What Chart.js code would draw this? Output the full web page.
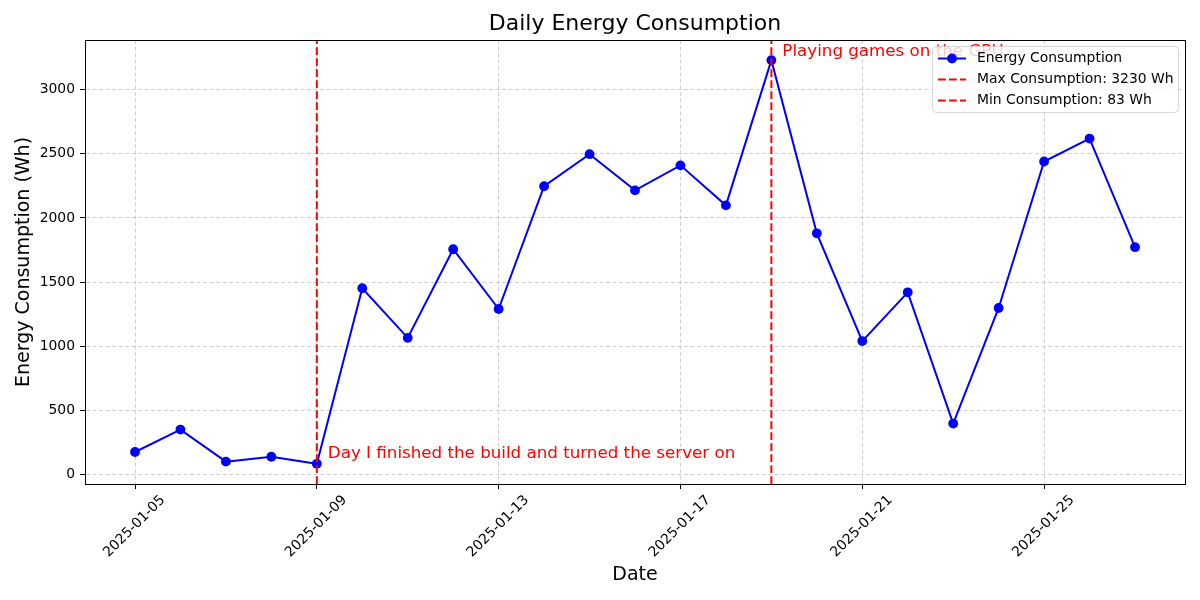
<!DOCTYPE html>
<html>
<head>
<meta charset="utf-8">
<script src="https://cdn.jsdelivr.net/npm/chart.js@4.4.1/dist/chart.umd.min.js"></script>
<style>
  body { margin: 0; background: #fff; }
  canvas { display: block; }
</style>
</head>
<body>
<canvas id="energy-plot" width="1200" height="600"></canvas>
<script>
// daily readings
const dates = ['2025-01-05', '2025-01-06', '2025-01-07', '2025-01-08', '2025-01-09', '2025-01-10',
    '2025-01-11', '2025-01-12', '2025-01-13', '2025-01-14', '2025-01-15', '2025-01-16',
    '2025-01-17', '2025-01-18', '2025-01-19', '2025-01-20', '2025-01-21', '2025-01-22',
    '2025-01-23', '2025-01-24', '2025-01-25', '2025-01-26', '2025-01-27'];
const consumption = [175, 350, 100, 138, 83, 1452, 1065, 1756, 1290, 2247, 2497, 2215,
    2410, 2098, 3230, 1880, 1040, 1420, 397, 1298, 2440, 2619, 1772];
const xTickIdx = [0, 4, 8, 12, 16, 20];
const yTicks = [0, 500, 1000, 1500, 2000, 2500, 3000];
const minNote = 'Day I finished the build and turned the server on';
const maxNote = 'Playing games on the GPU';

const FONT = "'DejaVu Sans', sans-serif";

const maxVal = Math.max(...consumption);
const minVal = Math.min(...consumption);
const maxIdx = consumption.indexOf(maxVal);
const minIdx = consumption.indexOf(minVal);

// matplotlib-like 5% margins
const yPad = (maxVal - minVal) * 0.05;
const yMin = minVal - yPad, yMax = maxVal + yPad;
const xPad = (dates.length - 1) * 0.05;

const points = consumption.map((v, i) => ({ x: i, y: v }));
const dash = [7.7, 3.3];
const gridDash = [4, 2.5];

const legendItems = [
    { label: 'Energy Consumption', color: 'blue', dashed: false },
    { label: 'Max Consumption: ' + maxVal + ' Wh', color: 'red', dashed: true },
    { label: 'Min Consumption: ' + minVal + ' Wh', color: 'red', dashed: true }
];

const decorPlugin = {
    id: 'decor',
    afterDraw(chart) {
        const ctx = chart.ctx;
        const a = chart.chartArea;
        const xs = chart.scales.x, ys = chart.scales.y;
        ctx.save();

        // frame
        ctx.strokeStyle = '#000';
        ctx.lineWidth = 1;
        ctx.setLineDash([]);
        ctx.strokeRect(a.left + 0.5, a.top + 0.5, a.right - a.left, a.bottom - a.top);

        // notes
        ctx.fillStyle = 'red';
        ctx.font = '16.7px ' + FONT;
        ctx.textBaseline = 'middle';
        ctx.textAlign = 'left';
        ctx.fillText(minNote, xs.getPixelForValue(minIdx) + 11, ys.getPixelForValue(minVal + 80));
        ctx.fillText(maxNote, xs.getPixelForValue(maxIdx) + 11, ys.getPixelForValue(maxVal + 65));

        // titles
        const cx = (a.left + a.right) / 2;
        ctx.fillStyle = '#000';
        ctx.textAlign = 'center';
        ctx.font = '22px ' + FONT;
        ctx.fillText('Daily Energy Consumption', cx, 24);
        ctx.font = '19px ' + FONT;
        ctx.fillText('Date', cx, 575);
        ctx.save();
        ctx.translate(24, (a.top + a.bottom) / 2);
        ctx.rotate(-Math.PI / 2);
        ctx.fillText('Energy Consumption (Wh)', 0, 0);
        ctx.restore();

        // legend box
        const bx = 932.5, by = 46.5, bw = 246, bh = 66, r = 4;
        ctx.beginPath();
        ctx.moveTo(bx + r, by);
        ctx.arcTo(bx + bw, by, bx + bw, by + bh, r);
        ctx.arcTo(bx + bw, by + bh, bx, by + bh, r);
        ctx.arcTo(bx, by + bh, bx, by, r);
        ctx.arcTo(bx, by, bx + bw, by, r);
        ctx.closePath();
        ctx.fillStyle = 'rgba(255,255,255,0.8)';
        ctx.fill();
        ctx.strokeStyle = 'rgba(204,204,204,0.8)';
        ctx.stroke();

        ctx.font = '13.9px ' + FONT;
        ctx.textAlign = 'left';
        legendItems.forEach((it, i) => {
            const ly = 58.5 + i * 21;
            ctx.strokeStyle = it.color;
            ctx.lineWidth = 2;
            ctx.setLineDash(it.dashed ? dash : []);
            ctx.beginPath();
            ctx.moveTo(938, ly);
            ctx.lineTo(966, ly);
            ctx.stroke();
            if (!it.dashed) {
                ctx.fillStyle = it.color;
                ctx.beginPath();
                ctx.arc(952, ly, 4.9, 0, Math.PI * 2);
                ctx.fill();
            }
            ctx.fillStyle = '#000';
            ctx.fillText(it.label, 977, ly);
        });
        ctx.restore();
    }
};

const gridOpts = {
    color: 'rgba(176,176,176,0.6)',
    tickColor: '#000',
    tickLength: 5,
    tickBorderDash: []
};

new Chart('energy-plot', {
    type: 'line',
    data: {
        datasets: [
            {
                label: 'Energy Consumption',
                data: points,
                borderColor: 'blue',
                backgroundColor: 'blue',
                borderWidth: 2,
                pointRadius: 4.9,
                pointBorderWidth: 0,
                tension: 0,
                order: 2
            },
            {
                label: 'Max',
                data: [{ x: maxIdx, y: yMin }, { x: maxIdx, y: yMax }],
                borderColor: 'red',
                borderWidth: 2,
                borderDash: dash,
                pointRadius: 0,
                order: 1
            },
            {
                label: 'Min',
                data: [{ x: minIdx, y: yMin }, { x: minIdx, y: yMax }],
                borderColor: 'red',
                borderWidth: 2,
                borderDash: dash,
                pointRadius: 0,
                order: 1
            }
        ]
    },
    options: {
        responsive: false,
        animation: false,
        events: [],
        layout: { padding: { top: 40, right: 15, left: 0, bottom: 0 } },
        plugins: {
            legend: { display: false },
            title: { display: false },
            tooltip: { enabled: false }
        },
        scales: {
            x: {
                type: 'linear',
                min: -xPad,
                max: dates.length - 1 + xPad,
                afterFit(scale) { scale.height = 116; },
                afterBuildTicks(scale) { scale.ticks = xTickIdx.map(v => ({ value: v })); },
                ticks: {
                    autoSkip: false,
                    maxRotation: 45,
                    minRotation: 45,
                    labelOffset: 28,
                    padding: 3,
                    color: '#000',
                    font: { family: FONT, size: 13.9 },
                    callback: (v) => dates[v]
                },
                grid: gridOpts,
                border: { color: '#000', dash: gridDash }
            },
            y: {
                type: 'linear',
                min: yMin,
                max: yMax,
                afterFit(scale) { scale.width = 85; },
                afterBuildTicks(scale) { scale.ticks = yTicks.map(v => ({ value: v })); },
                ticks: {
                    padding: 5,
                    color: '#000',
                    font: { family: FONT, size: 13.9 },
                    callback: (v) => String(v)
                },
                grid: gridOpts,
                border: { color: '#000', dash: gridDash }
            }
        }
    },
    plugins: [decorPlugin]
});
</script>
</body>
</html>
